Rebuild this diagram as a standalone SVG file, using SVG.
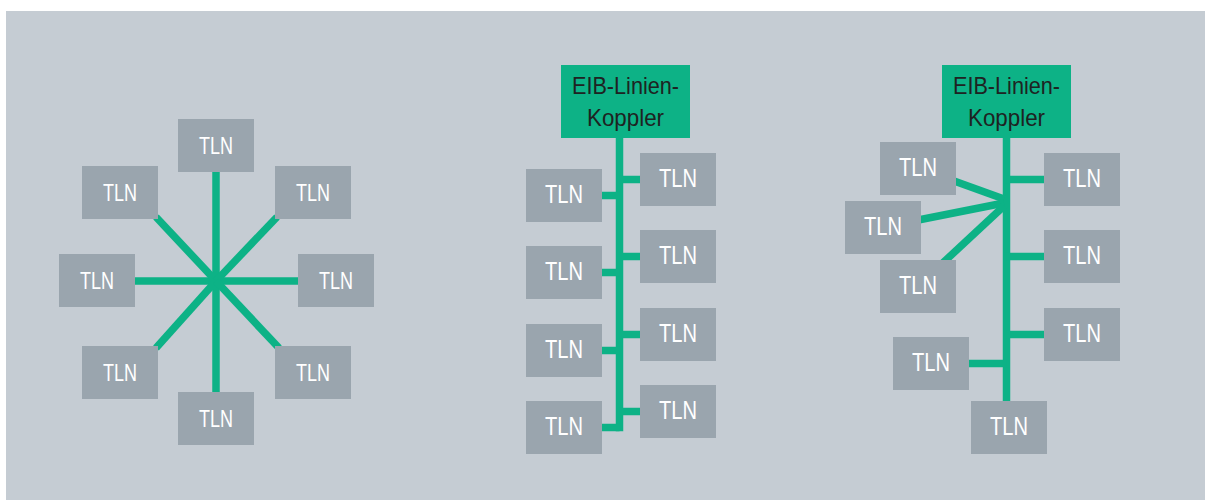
<svg xmlns="http://www.w3.org/2000/svg" width="1205" height="500" viewBox="0 0 1205 500">
<style>
.bg{fill:#c5ccd3}
.tln{fill:#9aa5ae}
.cpl{fill:#0db286}
.w{stroke:#0db286;stroke-width:7.5;fill:none;stroke-linecap:butt}
.t{font-family:"Liberation Sans",Arial,sans-serif;fill:#ffffff;text-anchor:middle}
.s{font-size:24px}
.m{font-size:25.5px}
.k{font-family:"Liberation Sans",Arial,sans-serif;fill:#1e2322;text-anchor:middle;font-size:24px}
</style>
<rect class="bg" x="6" y="11" width="1199" height="489"/>
<g id="connectors">
<!-- star -->
<line class="w" x1="216" y1="172" x2="216" y2="392"/>
<line class="w" x1="135" y1="281" x2="298" y2="281"/>
<line class="w" x1="216" y1="281" x2="156" y2="217"/>
<line class="w" x1="216" y1="281" x2="277" y2="217"/>
<line class="w" x1="216" y1="281" x2="156" y2="348"/>
<line class="w" x1="216" y1="281" x2="279" y2="348"/>
<!-- line topology -->
<line class="w" x1="619.5" y1="137" x2="619.5" y2="431.25"/>
<line class="w" x1="601" y1="195.5" x2="619.5" y2="195.5"/>
<line class="w" x1="601" y1="272.5" x2="619.5" y2="272.5"/>
<line class="w" x1="601" y1="350.5" x2="619.5" y2="350.5"/>
<line class="w" x1="601" y1="427.5" x2="619.5" y2="427.5"/>
<line class="w" x1="619.5" y1="179.5" x2="641" y2="179.5"/>
<line class="w" x1="619.5" y1="256.5" x2="641" y2="256.5"/>
<line class="w" x1="619.5" y1="334.5" x2="641" y2="334.5"/>
<line class="w" x1="619.5" y1="411.5" x2="641" y2="411.5"/>
<!-- tree topology -->
<line class="w" x1="1006.5" y1="137" x2="1006.5" y2="402"/>
<line class="w" x1="1006.5" y1="179.5" x2="1045" y2="179.5"/>
<line class="w" x1="1006.5" y1="256.5" x2="1045" y2="256.5"/>
<line class="w" x1="1006.5" y1="334.5" x2="1045" y2="334.5"/>
<line class="w" x1="968" y1="363.5" x2="1006.5" y2="363.5"/>
<line class="w" x1="918" y1="168" x2="1004" y2="199"/>
<line class="w" x1="883" y1="227" x2="1004" y2="203"/>
<line class="w" x1="918" y1="286" x2="1004" y2="206"/>
</g>
<!-- star nodes -->
<g id="s1"><rect class="tln" x="178" y="119" width="76" height="53"/><text class="t s" x="216" y="154" textLength="34" lengthAdjust="spacingAndGlyphs">TLN</text></g>
<g id="s2"><rect class="tln" x="82" y="166" width="76" height="53"/><text class="t s" x="120" y="201" textLength="34" lengthAdjust="spacingAndGlyphs">TLN</text></g>
<g id="s3"><rect class="tln" x="275" y="166" width="76" height="53"/><text class="t s" x="313" y="201" textLength="34" lengthAdjust="spacingAndGlyphs">TLN</text></g>
<g id="s4"><rect class="tln" x="59" y="254" width="76" height="53"/><text class="t s" x="97" y="289" textLength="34" lengthAdjust="spacingAndGlyphs">TLN</text></g>
<g id="s5"><rect class="tln" x="298" y="254" width="76" height="53"/><text class="t s" x="336" y="289" textLength="34" lengthAdjust="spacingAndGlyphs">TLN</text></g>
<g id="s6"><rect class="tln" x="82" y="346" width="76" height="53"/><text class="t s" x="120" y="381" textLength="34" lengthAdjust="spacingAndGlyphs">TLN</text></g>
<g id="s7"><rect class="tln" x="275" y="346" width="76" height="53"/><text class="t s" x="313" y="381" textLength="34" lengthAdjust="spacingAndGlyphs">TLN</text></g>
<g id="s8"><rect class="tln" x="178" y="392" width="76" height="53"/><text class="t s" x="216" y="427" textLength="34" lengthAdjust="spacingAndGlyphs">TLN</text></g>
<!-- line topology nodes -->
<g id="c1"><rect class="cpl" x="561" y="65" width="129" height="73"/><text class="k" x="625.5" y="94" textLength="107" lengthAdjust="spacingAndGlyphs">EIB-Linien-</text><text class="k" x="625.5" y="126" textLength="77" lengthAdjust="spacingAndGlyphs">Koppler</text></g>
<g id="l1"><rect class="tln" x="526" y="169" width="76" height="53"/><text class="t m" x="564" y="202.5" textLength="38" lengthAdjust="spacingAndGlyphs">TLN</text></g>
<g id="l2"><rect class="tln" x="526" y="246" width="76" height="53"/><text class="t m" x="564" y="279.5" textLength="38" lengthAdjust="spacingAndGlyphs">TLN</text></g>
<g id="l3"><rect class="tln" x="526" y="324" width="76" height="53"/><text class="t m" x="564" y="357.5" textLength="38" lengthAdjust="spacingAndGlyphs">TLN</text></g>
<g id="l4"><rect class="tln" x="526" y="401" width="76" height="53"/><text class="t m" x="564" y="434.5" textLength="38" lengthAdjust="spacingAndGlyphs">TLN</text></g>
<g id="r1"><rect class="tln" x="640" y="153" width="76" height="53"/><text class="t m" x="678" y="186.5" textLength="38" lengthAdjust="spacingAndGlyphs">TLN</text></g>
<g id="r2"><rect class="tln" x="640" y="230" width="76" height="53"/><text class="t m" x="678" y="263.5" textLength="38" lengthAdjust="spacingAndGlyphs">TLN</text></g>
<g id="r3"><rect class="tln" x="640" y="308" width="76" height="53"/><text class="t m" x="678" y="341.5" textLength="38" lengthAdjust="spacingAndGlyphs">TLN</text></g>
<g id="r4"><rect class="tln" x="640" y="385" width="76" height="53"/><text class="t m" x="678" y="418.5" textLength="38" lengthAdjust="spacingAndGlyphs">TLN</text></g>
<!-- tree topology nodes -->
<g id="c2"><rect class="cpl" x="942" y="65" width="129" height="73"/><text class="k" x="1006.5" y="94" textLength="107" lengthAdjust="spacingAndGlyphs">EIB-Linien-</text><text class="k" x="1006.5" y="126" textLength="77" lengthAdjust="spacingAndGlyphs">Koppler</text></g>
<g id="t1"><rect class="tln" x="1044" y="153" width="76" height="53"/><text class="t m" x="1082" y="186.5" textLength="38" lengthAdjust="spacingAndGlyphs">TLN</text></g>
<g id="t2"><rect class="tln" x="1044" y="230" width="76" height="53"/><text class="t m" x="1082" y="263.5" textLength="38" lengthAdjust="spacingAndGlyphs">TLN</text></g>
<g id="t3"><rect class="tln" x="1044" y="308" width="76" height="53"/><text class="t m" x="1082" y="341.5" textLength="38" lengthAdjust="spacingAndGlyphs">TLN</text></g>
<g id="t4"><rect class="tln" x="971" y="401" width="76" height="53"/><text class="t m" x="1009" y="434.5" textLength="38" lengthAdjust="spacingAndGlyphs">TLN</text></g>
<g id="t5"><rect class="tln" x="893" y="337" width="76" height="53"/><text class="t m" x="931" y="370.5" textLength="38" lengthAdjust="spacingAndGlyphs">TLN</text></g>
<g id="t6"><rect class="tln" x="880" y="142" width="76" height="53"/><text class="t m" x="918" y="175.5" textLength="38" lengthAdjust="spacingAndGlyphs">TLN</text></g>
<g id="t7"><rect class="tln" x="845" y="201" width="76" height="53"/><text class="t m" x="883" y="234.5" textLength="38" lengthAdjust="spacingAndGlyphs">TLN</text></g>
<g id="t8"><rect class="tln" x="880" y="260" width="76" height="53"/><text class="t m" x="918" y="293.5" textLength="38" lengthAdjust="spacingAndGlyphs">TLN</text></g>
</svg>
